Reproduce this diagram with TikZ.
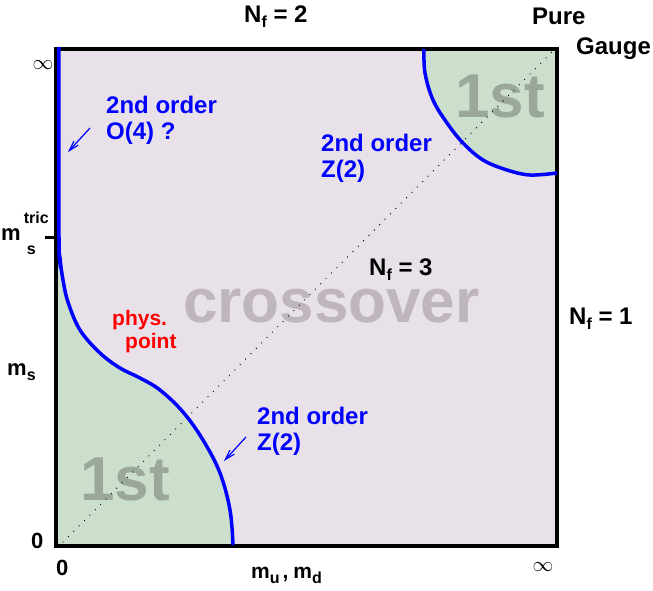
\documentclass[tikz,border=0pt]{standalone}
\usepackage{fontspec}
\setmainfont{Liberation Sans}
\usetikzlibrary{arrows.meta}
\definecolor{Lilac}{HTML}{E8E1EA}
\definecolor{Sage}{HTML}{CCDECC}
\definecolor{Fog}{HTML}{BEB6BC}
\definecolor{Moss}{HTML}{9BA899}
\newcommand{\lo}[2][5pt]{\raisebox{-#1}{\fontsize{16}{16}\selectfont #2}}
\newcommand{\hi}[2][17pt]{\raisebox{#1}{\fontsize{16}{16}\selectfont #2}}

\begin{document}
\begin{tikzpicture}[x=1pt,y=-1pt,>={Straight Barb[length=10pt,width=6pt]},
  lab/.style={font=\bfseries\fontsize{22}{25}\selectfont,inner sep=0pt,anchor=base west},
  head/.style={lab,font=\bfseries\fontsize{24}{26}\selectfont},
  bluelab/.style={head,text=blue,anchor=north west,align=left},
  redlab/.style={lab,text=red,font=\bfseries\fontsize{21}{24}\selectfont},
  huge/.style={lab,font=\bfseries\fontsize{62}{62}\selectfont},
  inf/.style={inner sep=0pt,font=\fontsize{20}{20}\selectfont},
  crit/.style={blue,line width=3.5pt},
  hint/.style={blue,line width=1.2pt,->}]
\useasboundingbox (0,0) rectangle (653,591);
\fill[Lilac] (56,49) rectangle (557,546);
\def\lowline{plot[smooth,tension=.6] coordinates {(59,47) (59,237) (60,258) (63,280) (68,302) (80,330) (100,353) (120,368) (140,378) (160,390) (183,412) (203,440) (220,473) (230,510) (233,545)}}
\def\highline{plot[smooth,tension=.6] coordinates {(424,49) (425,73) (433,100) (447,123) (463,143) (483,160) (507,170) (530,175) (557,173)}}
% first order corners
\fill[Sage] \lowline -- (57,546) -- cycle;
\fill[Sage] \highline -- (557,49) -- cycle;
\node[huge,text=Fog] (xover) at (183,322) {crossover};
\node[huge,text=Moss] (firstlow) at (80,500) {1st};
\node[huge,text=Moss] (firstup) at (455,118) {1st};
\draw[line width=1.3pt,line cap=round,dash pattern=on 0pt off 7.6pt] (63,542) -- (552,52);
\draw[line width=4pt] (56,49.5) rectangle (557,546);
\draw[crit] \lowline;
\draw[crit] \highline;
\draw[line width=3pt] (45,237) -- (56,237);
% labels
\node[head] (nftwo) at (244,23) {N\lo{f} = 2};
\node[head] (pure) at (532,25) {Pure};
\node[head] (gauge) at (576,55) {Gauge};
\node[head] (nfthree) at (369,275) {N\lo{f} = 3};
\node[head] (nfone) at (569,324) {N\lo{f} = 1};
\node[inf] (inftop) at (43,65) {$\infty$};
\node[inf] (infbot) at (543,567) {$\infty$};
\node[bluelab] (othree) at (106,96) {2nd order\\O(4) ?};
\node[bluelab] (ztwoup) at (321,134) {2nd order\\Z(2)};
\node[bluelab] (ztwolow) at (257,407) {2nd order\\Z(2)};
\node[redlab] (phys) at (112,325) {phys.};
\node[redlab] (point) at (125,348) {point};
\node[lab] (mtric) at (1,240) {m\kern3pt\rlap{\hi{tric}}\kern3pt\lo[14pt]{s}};
\node[lab] (ms) at (7,375) {m\lo{s}};
\node[lab] (zeroleft) at (31,548) {0};
\node[lab] (zerobot) at (56,575) {0};
\node[lab,font=\bfseries\fontsize{21}{24}\selectfont] (mumd) at (251,578) {m\lo{u}\kern3pt,\kern5pt m\lo{d}};
% arrows onto the critical lines
\coordinate (otail) at (90,128);
\coordinate (otip) at (68,152);
\coordinate (ztail) at (246,437);
\coordinate (ztip) at (224,461);
\draw[hint] (otail) -- (otip);
\draw[hint] (ztail) -- (ztip);
\end{tikzpicture}
\end{document}
